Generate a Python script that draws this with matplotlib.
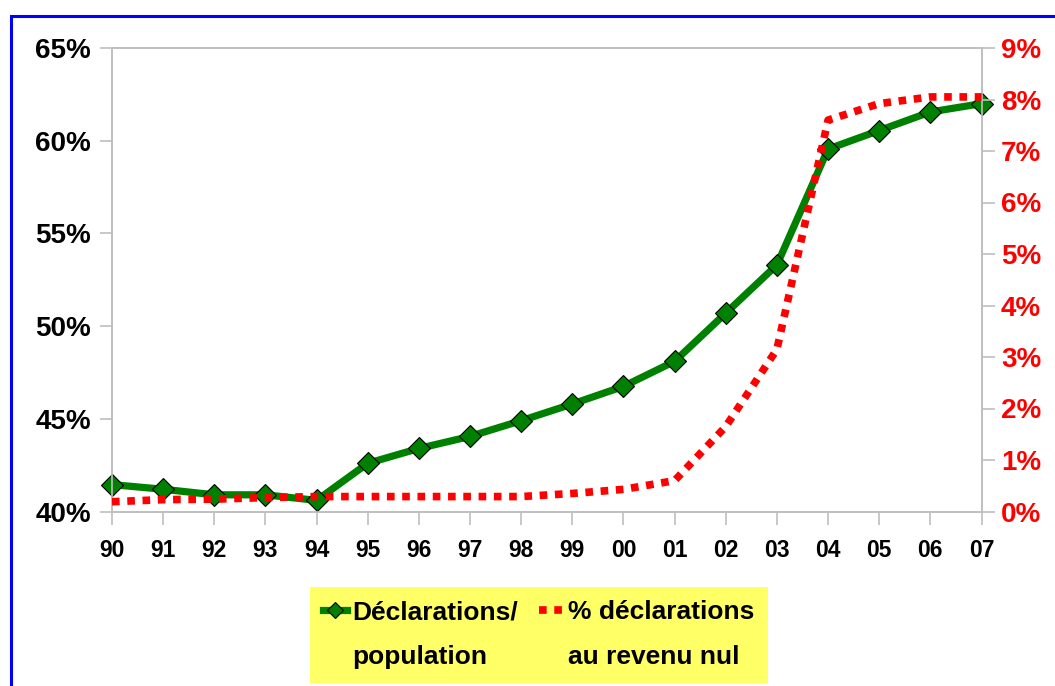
import matplotlib
matplotlib.use("Agg")
import matplotlib.pyplot as plt
from matplotlib.lines import Line2D
from matplotlib.patches import Rectangle
from matplotlib.ticker import FuncFormatter

plt.rcParams['font.family'] = ['Liberation Sans', 'DejaVu Sans']
plt.rcParams['font.weight'] = 'bold'

# data
years = ["90", "91", "92", "93", "94", "95", "96", "97", "98", "99",
         "00", "01", "02", "03", "04", "05", "06", "07"]
decl_pop = [41.45, 41.2, 40.9, 40.9, 40.6, 42.6, 43.4, 44.05, 44.9, 45.8,
            46.75, 48.1, 50.7, 53.3, 59.55, 60.55, 61.55, 62.0]
decl_nul = [0.19, 0.23, 0.24, 0.27, 0.29, 0.29, 0.29, 0.29, 0.29, 0.35,
            0.43, 0.6, 1.65, 3.15, 7.6, 7.92, 8.05, 8.05]

W, H = 1055, 686
fig = plt.figure(figsize=(W / 100, H / 100), dpi=100)
ax = fig.add_axes([112 / W, 1 - 511.5 / H, (981.5 - 112) / W, (511.5 - 48) / H])
ax2 = ax.twinx()

x = list(range(len(years)))
gray = '#BFBFBF'

ax.plot(x, decl_pop, color='#008000', lw=5.2, marker='D', markersize=11,
        markerfacecolor='#008000', markeredgecolor='black', markeredgewidth=0.8,
        solid_joinstyle='round', clip_on=False, zorder=3)
ax2.plot(x, decl_nul, color='#FF0000', lw=5.5, linestyle=(0, (1, 1)),
         dash_capstyle='butt', clip_on=False, zorder=3)

ax.set_xlim(0, len(years) - 1)
ax.set_ylim(40, 65)
ax2.set_ylim(0, 9)
ax.set_yticks(range(40, 66, 5))
ax2.set_yticks(range(0, 10))
ax.set_xticks(x)
ax.set_xticklabels(years)
ax.yaxis.set_major_formatter(FuncFormatter(lambda v, p: f"{v:.0f}%"))
ax2.yaxis.set_major_formatter(FuncFormatter(lambda v, p: f"{v:.0f}%"))

for a in (ax, ax2):
    for s in a.spines.values():
        s.set_color(gray)
        s.set_linewidth(1.2)
    a.tick_params(color=gray, width=1.2, length=9)

ax.tick_params(axis='y', labelsize=20, pad=6)
ax.tick_params(axis='x', labelsize=16.5, pad=11)
ax2.tick_params(axis='y', labelsize=20, pad=5, labelcolor='#FF0000')

# legend
h1 = Line2D([], [], color='#008000', lw=5.2, marker='D', markersize=8,
            markerfacecolor='#008000', markeredgecolor='black', markeredgewidth=0.8)
h2 = Line2D([], [], color='#FF0000', lw=5.5, linestyle=(0, (1, 1)), dash_capstyle='butt')
blank = Line2D([], [], color='none')
leg = fig.legend([h1, blank, h2, blank],
                 ["Déclarations/", "population", "% déclarations", "au revenu nul"],
                 ncol=2, loc='upper left', bbox_to_anchor=(310 / W, 1 - 587 / H),
                 borderaxespad=0, prop={'size': 19, 'weight': 'bold'},
                 handlelength=0.9, handletextpad=0.2, columnspacing=0.8,
                 labelspacing=0.8, borderpad=0.5, fancybox=False, framealpha=1,
                 facecolor='#FFFF66', edgecolor='none')

# blue frame
fig.patches.append(Rectangle((10.5 / W, -0.1), 1.2, 1.1 - 15.5 / H,
                             transform=fig.transFigure, fill=False,
                             edgecolor='#0000FF', lw=2.2))

fig.savefig("out.png", dpi=100)
